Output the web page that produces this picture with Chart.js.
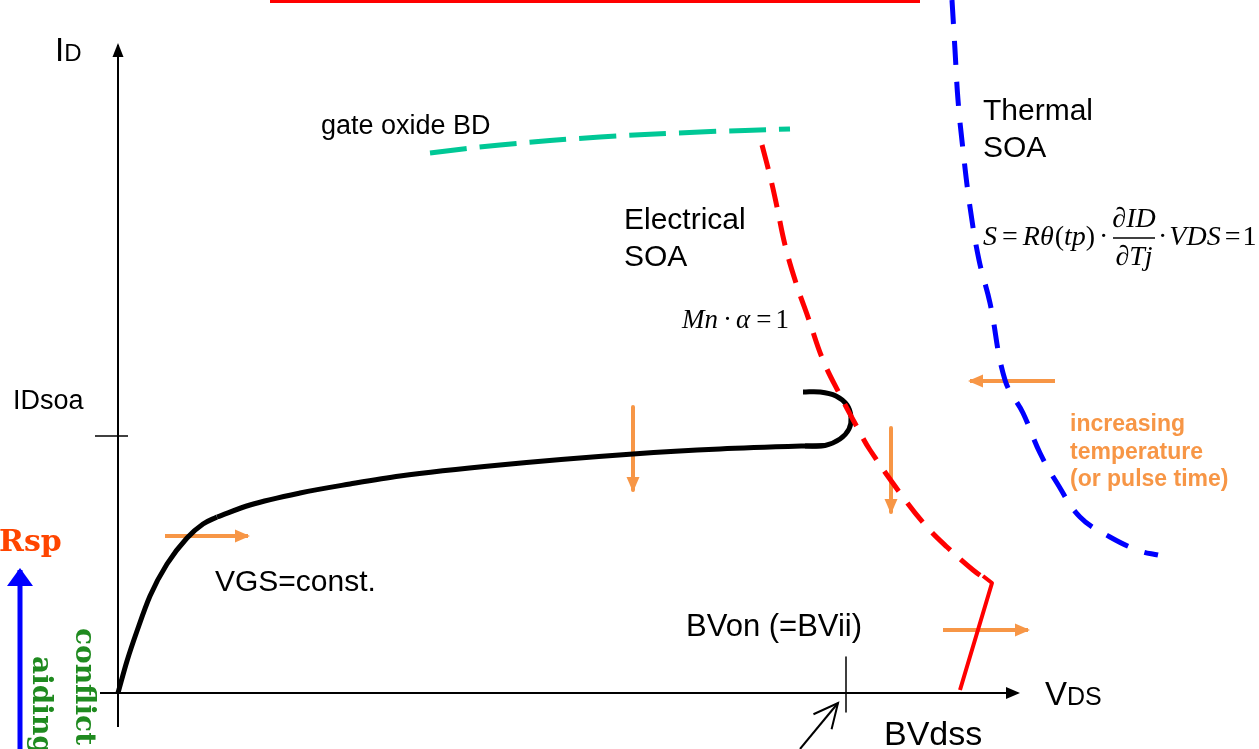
<!DOCTYPE html>
<html><head><meta charset="utf-8">
<script src="https://cdn.jsdelivr.net/npm/chart.js@4.4.1/dist/chart.umd.min.js"></script>
<style>html,body{margin:0;padding:0;background:#fff;overflow:hidden}#wrap{position:relative;width:1259px;height:749px}</style>
</head><body><div id="wrap"><canvas id="c"></canvas></div>
<script>
// ---- data (x = VDS, y = ID, arbitrary schematic units, origin at the axes crossing) ----
const vgsRise = [[0,0],[9,32],[19,62],[32,97],[49,129],[69,155],[85,169],[99,176]];
const vgsPlateau = [[99,176],[132,188],[182,200],[232,209],[282,217],[382,228],[515,239],[602,244],[687,247],[707,247.5]];
const vgsHook = [[687,247],[707,247.5],[722,254],[731,264],[733,276],[729,288],[718,297],[702,301],[685,301]];
const gateOxideBD = [[312,540],[382,548],[482,556],[582,561],[672,564]];
const electricalSOA = [[644,548],[653,513],[659,486],[667,448],[678,410],[691,373],[705,333],[722,298],[739,266],[752,243],[785,196],[809,166],[829,146],[855,123],[872,111]];
const bvdssLine = [[865,117],[874,110],[842,3]];
const thermalSOA = [[834,693],[837,643],[840,593],[845,543],[852,486],[861,433],[872,390],[887,313],[905,280],[922,240],[939,210],[962,176],[992,156],[1022,142],[1040,138]];
const topRule = [[152,692],[802,692]];
const idAxis = [[0,-34],[0,648]];
const vdsAxis = [[-18,0],[900,0]];
const idSoaTick = [[-23,257],[10,257]];
const bvonTick = [[728,36],[728,-19]];
const bvonPointer = [[682,-56],[720,-10]];
// orange trend arrows [from, to]
const trendArrows = [
  [[47,157],[130,157]],
  [[515,286],[515,203]],
  [[773,265],[773,181]],
  [[937,312],[852,312]],
  [[825,63],[910,63]]
];
const rspArrow = [[-98,-56],[-98,123]];
const tempLabel = ['increasing','temperature','(or pulse time)'];

const pts = a => a.map(p => ({x:p[0], y:p[1]}));
const line = (d, color, w, dash, tension, mono) => ({data: pts(d), showLine: true, borderColor: color, borderWidth: w, borderDash: dash || [], tension: tension || 0, cubicInterpolationMode: mono ? 'monotone' : 'default', pointRadius: 0, fill: false, borderCapStyle: 'butt', borderJoinStyle: 'round'});

const ORANGE = '#F79646';
const datasets = [
  line(topRule, '#FF0000', 4),
  line(idAxis, '#000', 2),
  line(vdsAxis, '#000', 2),
  line(idSoaTick, '#000', 1.5),
  line(bvonTick, '#000', 1.5),
  line(bvonPointer, '#000', 2),
  line(gateOxideBD, '#00C896', 5, [37,13], 0.4),
  line(electricalSOA, '#FF0000', 5, [25,14], 0.4),
  line(bvdssLine, '#FF0000', 4, [], 0),
  line(thermalSOA, '#0000FF', 5, [24,17], 0.4),
  line(vgsRise, '#000', 5, [], 0.4, true),
  line(vgsPlateau, '#000', 5, [], 0.4, true),
  line(vgsHook, '#000', 5, [], 0.4),
  ...trendArrows.map(a => line(a, ORANGE, 4)),
  line(rspArrow, '#0000FF', 5)
];

const decor = {
  id: 'decor',
  afterDatasetsDraw(chart) {
    const ctx = chart.ctx, xs = chart.scales.x, ys = chart.scales.y;
    const P = (x, y) => [xs.getPixelForValue(x), ys.getPixelForValue(y)];
    function head(from, to, len, wid, color, open) {
      const [x1,y1] = P(from[0],from[1]), [x2,y2] = P(to[0],to[1]);
      const a = Math.atan2(y2-y1, x2-x1);
      ctx.save();
      if (open) {
        ctx.strokeStyle = color; ctx.lineWidth = 2; ctx.beginPath();
        ctx.moveTo(x2 + len*Math.cos(a+Math.PI-0.45), y2 + len*Math.sin(a+Math.PI-0.45));
        ctx.lineTo(x2, y2);
        ctx.lineTo(x2 + len*Math.cos(a+Math.PI+0.45), y2 + len*Math.sin(a+Math.PI+0.45));
        ctx.stroke();
      } else {
        ctx.fillStyle = color; ctx.beginPath();
        ctx.moveTo(x2 + 2*Math.cos(a), y2 + 2*Math.sin(a));
        const bx = x2 - len*Math.cos(a), by = y2 - len*Math.sin(a);
        ctx.lineTo(bx + wid/2*Math.sin(a), by - wid/2*Math.cos(a));
        ctx.lineTo(bx - wid/2*Math.sin(a), by + wid/2*Math.cos(a));
        ctx.closePath(); ctx.fill();
      }
      ctx.restore();
    }
    head(idAxis[0], idAxis[1], 12, 11, '#000');
    head(vdsAxis[0], vdsAxis[1], 12, 12, '#000');
    trendArrows.forEach(a => head(a[0], a[1], 13, 13, ORANGE));
    head(rspArrow[0], rspArrow[1], 16, 26, '#0000FF');
    head(bvonPointer[0], bvonPointer[1], 27, 0, '#000', true);

    // text runs: entries are [text, font] or a number (extra gap in px)
    function runs(x, y, list, color) {
      let [px, py] = P(x, y);
      ctx.save(); ctx.fillStyle = color || '#000'; ctx.textBaseline = 'alphabetic'; ctx.textAlign = 'left';
      list.forEach(r => {
        if (typeof r === 'number') { px += r; return; }
        ctx.font = r[1]; ctx.fillText(r[0], px, py + (r[2]||0)); px += ctx.measureText(r[0]).width;
      });
      ctx.restore();
      return px;
    }
    const SANS = '"Liberation Sans", Arial, sans-serif';
    const SERIF = '"Liberation Serif", "Times New Roman", serif';
    runs(-63, 632, [['I', '33px '+SANS], ['D', '24px '+SANS]]);
    runs(-105, 284, [['IDsoa', '27px '+SANS]]);
    runs(97, 102, [['VGS=const.', '30px '+SANS]]);
    runs(203, 559, [['gate oxide BD', '27px '+SANS]]);
    runs(506, 464, [['Electrical', '30px '+SANS]]);
    runs(506, 427, [['SOA', '30px '+SANS]]);
    runs(865, 573, [['Thermal', '30px '+SANS]]);
    runs(865, 536, [['SOA', '30px '+SANS]]);
    runs(568, 57, [['BVon (=BVii)', '31px '+SANS]]);
    runs(766, -52, [['BVdss', '34px '+SANS]]);
    runs(927, -12, [['V', '33px '+SANS], ['DS', '25px '+SANS]]);
    tempLabel.forEach((t, i) => runs(952, 262 - i*27.5, [[t, 'bold 23px '+SANS]], ORANGE));
    runs(-119, 142, [['Rsp', 'bold 30px "DejaVu Serif", serif']], '#FF4500');

    const IT = 'italic 27px '+SERIF, RM = '27px '+SERIF;
    runs(564, 365, [['Mn', IT], 5, ['·', RM], 4, ['α', IT], 6, ['=', RM], 4, ['1', RM]]);

    // thermal formula
    const FI = 'italic 28px '+SERIF, FR = '28px '+SERIF;
    runs(865, 448, [['S', FI], 5, ['=', FR], 5, ['Rθ', FI], 1, ['(', FR], ['tp', FI], [')', FR], 4, ['·', FR]]);
    ctx.save(); ctx.font = FI;
    const numW = ctx.measureText('∂ID').width, denW = ctx.measureText('∂Tj').width;
    ctx.restore();
    const [cx] = P(1016, 0);
    const [, barY] = P(0, 455);
    const xv = v => xs.getValueForPixel(v);
    runs(xv(cx - numW/2), 466, [['∂ID', FI]]);
    runs(xv(cx - denW/2), 428, [['∂Tj', FI]]);
    ctx.save(); ctx.strokeStyle = '#000'; ctx.lineWidth = 1.3; ctx.beginPath();
    ctx.moveTo(cx - 21, barY); ctx.lineTo(cx + 21, barY); ctx.stroke(); ctx.restore();
    runs(1040, 448, [['·', FR], 2, ['VDS', FI], 4, ['=', FR], 2, ['1', FR]]);

    // rotated labels
    function vtext(x, y, t, color) {
      const [px, py] = P(x, y);
      ctx.save(); ctx.translate(px, py); ctx.rotate(Math.PI/2);
      ctx.fillStyle = color; ctx.font = 'bold 28px "DejaVu Serif", serif';
      ctx.textBaseline = 'alphabetic'; ctx.textAlign = 'left';
      ctx.fillText(t, 0, 0); ctx.restore();
    }
    vtext(-42, 65, 'conflict', '#1F8A1F');
    vtext(-85, 37, 'aiding', '#1F8A1F');
  }
};

new Chart(document.getElementById('c'), {
  type: 'scatter',
  data: { datasets },
  options: {
    responsive: true, maintainAspectRatio: false, animation: false,
    layout: { padding: 0 },
    plugins: { legend: { display: false }, tooltip: { enabled: false } },
    scales: {
      x: { type: 'linear', min: -118, max: 1141, display: false },
      y: { type: 'linear', min: -56, max: 693, display: false }
    }
  },
  plugins: [decor]
});
</script></body></html>
